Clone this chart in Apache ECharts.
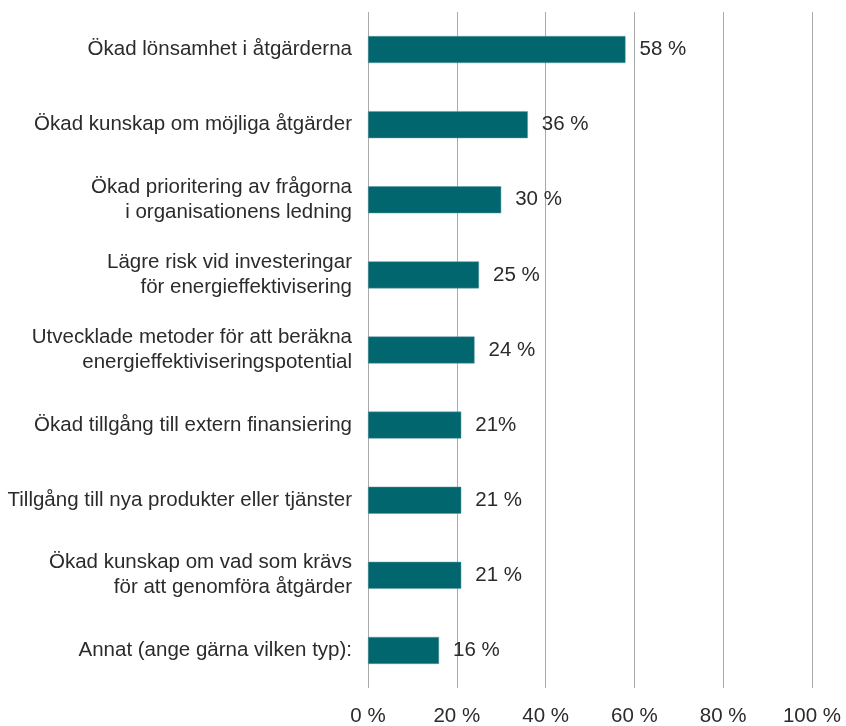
<!DOCTYPE html>
<html>
<head>
<meta charset="utf-8">
<script src="https://cdn.jsdelivr.net/npm/echarts@6/dist/echarts.min.js"></script>
<style>
  html, body { margin: 0; padding: 0; background: #fff; }
  #chart { width: 846px; height: 726px; }
</style>
</head>
<body>
<div id="chart"></div>
<script>
// categories top to bottom
const categories = [
  'Ökad lönsamhet i åtgärderna',
  'Ökad kunskap om möjliga åtgärder',
  'Ökad prioritering av frågorna\ni organisationens ledning',
  'Lägre risk vid investeringar\nför energieffektivisering',
  'Utvecklade metoder för att beräkna\nenergieffektiviseringspotential',
  'Ökad tillgång till extern finansiering',
  'Tillgång till nya produkter eller tjänster',
  'Ökad kunskap om vad som krävs\nför att genomföra åtgärder',
  'Annat (ange gärna vilken typ):'
];
const values = [58, 36, 30, 25, 24, 21, 21, 21, 16];
const valueLabels = ['58 %', '36 %', '30 %', '25 %', '24 %', '21%', '21 %', '21 %', '16 %'];

const textColor = '#2b2b2b';
const font = 'Liberation Sans, Arial, Helvetica, sans-serif';

var mychart = echarts.init(document.getElementById('chart'));
mychart.setOption({
  animation: false,
  grid: { left: 368, right: 34, top: 12, bottom: 38, containLabel: false, outerBoundsMode: 'none' },
  xAxis: {
    type: 'value',
    min: 0,
    max: 100,
    interval: 20,
    axisLine: { show: false },
    axisTick: { show: false },
    splitLine: { lineStyle: { color: '#aaa', width: 1 } },
    axisLabel: {
      formatter: '{value} %',
      color: textColor,
      fontFamily: font,
      fontSize: 20.5,
      margin: 18
    }
  },
  yAxis: {
    type: 'category',
    inverse: true,
    data: categories,
    axisLine: { show: false },
    axisTick: { show: false },
    axisLabel: {
      color: textColor,
      fontFamily: font,
      fontSize: 20.5,
      lineHeight: 25,
      align: 'right',
      margin: 16
    }
  },
  series: [{
    type: 'bar',
    data: values,
    barWidth: 27,
    itemStyle: { color: '#02666f', borderColor: '#5e9aa0', borderWidth: 0.5 },
    label: {
      show: true,
      position: 'right',
      distance: 14,
      color: textColor,
      fontFamily: font,
      fontSize: 20.5,
      formatter: (p) => valueLabels[p.dataIndex]
    }
  }]
});
</script>
</body>
</html>
